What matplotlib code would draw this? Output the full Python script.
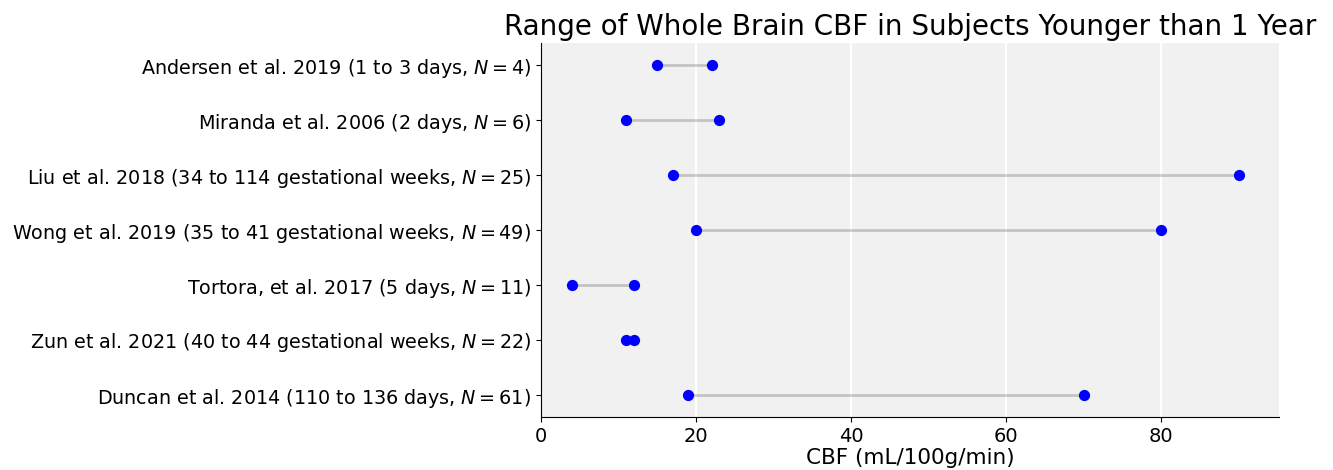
import matplotlib
matplotlib.use('Agg')
import matplotlib.pyplot as plt
import numpy as np

studies = [
    'Andersen et al. 2019 (1 to 3 days, $N=4$)',
    'Miranda et al. 2006 (2 days, $N=6$)',
    'Liu et al. 2018 (34 to 114 gestational weeks, $N=25$)',
    'Wong et al. 2019 (35 to 41 gestational weeks, $N=49$)',
    'Tortora, et al. 2017 (5 days, $N=11$)',
    'Zun et al. 2021 (40 to 44 gestational weeks, $N=22$)',
    'Duncan et al. 2014 (110 to 136 days, $N=61$)',
]
cbf_low = [15, 11, 17, 20, 4, 11, 19]
cbf_high = [22, 23, 90, 80, 12, 12, 70]

fig = plt.figure(figsize=(13.33, 4.7), dpi=100)
ax = fig.add_axes([541 / 1333, 1 - 417 / 470, (1279 - 541) / 1333, (417 - 43) / 470])
ax.set_facecolor('#f1f1f1')

ypos = np.arange(len(studies))[::-1]
ax.hlines(ypos, cbf_low, cbf_high, color='grey', alpha=0.4, lw=2, zorder=2)
ax.scatter(cbf_low, ypos, color='blue', s=50, zorder=3)
ax.scatter(cbf_high, ypos, color='blue', s=50, zorder=3)

ax.set_yticks(ypos)
ax.set_yticklabels(studies, fontsize=13.75)
ax.set_xticks([0, 20, 40, 60, 80])
ax.tick_params(axis='x', labelsize=14)
ax.set_xlim(0, 95.2)
ax.set_ylim(-0.4, 6.4)
ax.grid(axis='x', color='white', lw=1.5, zorder=1)
ax.set_axisbelow(True)
for s in ['top', 'right']:
    ax.spines[s].set_visible(False)

ax.set_xlabel('CBF (mL/100g/min)', fontsize=15.5, labelpad=2)
ax.set_title('Range of Whole Brain CBF in Subjects Younger than 1 Year', fontsize=20)

fig.savefig('out.png', dpi=100)
